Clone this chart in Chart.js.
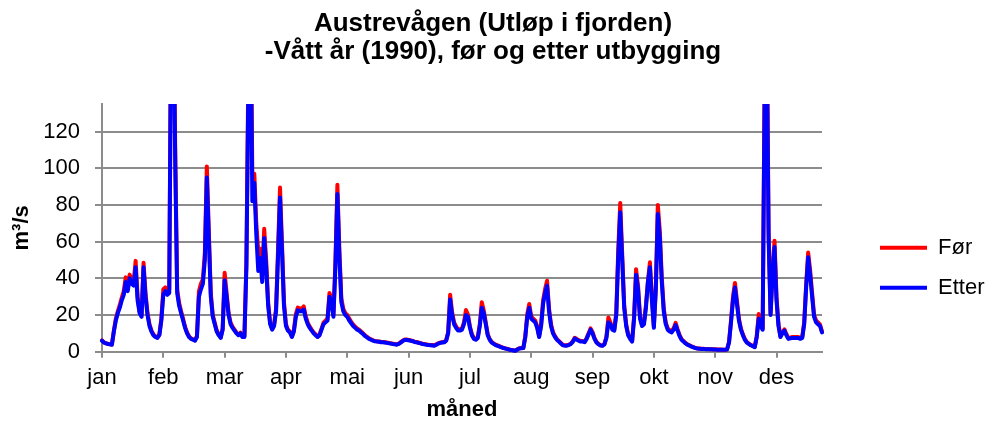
<!DOCTYPE html>
<html>
<head>
<meta charset="utf-8">
<script src="https://cdn.jsdelivr.net/npm/chart.js@4.4.1/dist/chart.umd.min.js"></script>
<style>
  html, body { margin: 0; padding: 0; background: #fff; }
  #chart { display: block; }
</style>
</head>
<body>
<canvas id="chart" width="986" height="426"></canvas>
<script>
// month tick labels, one every 31 days
var months = ['jan', 'feb', 'mar', 'apr', 'mai', 'jun', 'jul', 'aug', 'sep', 'okt', 'nov', 'des'];

// daily discharge m3/s (day 0 = 1 jan)
var dagFor = [
  6.2, 5.1, 4.6, 4.3, 4.1, 3.9, 11.5, 18, 22, 25.5,
  29.5, 33, 40.5, 35, 42, 39, 38, 49.5, 30, 22,
  20, 48.5, 32, 21, 15, 11.5, 9.4, 8.3, 7.8, 9.5,
  18, 34, 35, 33, 34, 200, 210, 112, 34, 26.5,
  22, 18, 13.5, 10.5, 8.4, 7.3, 6.8, 6.3, 8.5, 33,
  37, 39.5, 54, 101, 66, 32, 20, 15.8, 11.6, 9.4,
  7.8, 12.6, 43, 32, 21, 15.8, 13.6, 12, 10.4, 9.4,
  10.4, 8.3, 8.3, 49, 155, 210, 97, 97, 70, 55,
  56, 42, 67, 50, 27, 16, 12.6, 14.8, 23.5, 56,
  89.5, 59, 27, 15, 12, 11, 8.4, 11.6, 20.5, 24,
  23.5, 23.5, 24.7, 19.3, 15.8, 13.7, 12, 10.5, 9.4, 8.4,
  9.4, 12.6, 15.8, 16.9, 18, 32, 29, 20, 49, 91,
  56, 29, 23.3, 21, 20, 18, 16.3, 14.7, 13.6, 12.6,
  12, 11, 10, 8.9, 8.1, 7.3, 6.8, 6.2, 5.9, 5.7,
  5.6, 5.4, 5.3, 5.2, 5, 4.8, 4.6, 4.4, 4.2, 4,
  4.4, 5.2, 6, 6.6, 6.6, 6.4, 6.2, 5.9, 5.5, 5.3,
  5, 4.7, 4.4, 4.2, 4, 3.8, 3.7, 3.6, 3.5, 4,
  4.6, 5, 5.2, 5.3, 6.3, 10.6, 31, 21.5, 16, 13.8,
  12.2, 12.2, 12.7, 16, 22.7, 20.2, 13.8, 9.5, 7.4, 6.9,
  8, 15, 27, 22.5, 16, 9.5, 6.9, 5.3, 4.5, 3.8,
  3.4, 3, 2.5, 2.1, 1.8, 1.5, 1.2, 1, 0.8, 0.6,
  1.3, 1.9, 2, 2.1, 8.5, 20.5, 26, 19.3, 18, 17,
  13.8, 8.5, 15, 28, 34, 38.7, 23.5, 15, 10.6, 8.5,
  6.9, 5.8, 4.8, 3.7, 3.5, 3.5, 3.8, 4.4, 5.7, 7.6,
  6.9, 6.3, 5.8, 5.8, 5.5, 7.4, 10, 12.7, 10.6, 7.4,
  5.3, 4.2, 3.6, 3.4, 4.2, 8, 18.7, 16, 12.7, 12.2,
  21.5, 56, 81, 53, 25.5, 15, 9.5, 7.4, 5.8, 19.3,
  45, 36, 19.3, 15, 16, 25.5, 38.5, 48.7, 30, 13.8,
  36, 80, 66, 40.5, 23.5, 16, 12.7, 11.7, 11.2, 12.8,
  15.7, 12.2, 9, 6.9, 5.8, 4.8, 4, 3.5, 3, 2.5,
  2.1, 1.8, 1.7, 1.6, 1.6, 1.5, 1.5, 1.4, 1.4, 1.3,
  1.3, 1.2, 1.2, 1.2, 1.1, 1.1, 1.3, 5.3, 17, 30,
  37.5, 27.8, 18, 12.7, 9.5, 6.9, 5.3, 4.4, 3.7, 3.2,
  2.6, 8.5, 20.5, 15, 12.7, 150, 195, 66, 21, 45,
  60.5, 30, 15, 8.5, 10.6, 12.2, 9.5, 7.4, 7.7, 8,
  8, 8, 8, 7.4, 8, 16, 37, 54, 44.5, 32,
  20, 17, 16, 14.8, 11
];

var dagEtter = [
  6, 5, 4.5, 4.2, 4, 3.8, 11, 17, 21, 24,
  28, 31, 38, 33, 40, 37, 36, 46, 28, 21,
  19, 46, 30, 20, 14, 11, 9, 8, 7.5, 9,
  17, 31, 33, 31, 32, 190, 200, 105, 32, 25,
  21, 17, 13, 10, 8, 7, 6.5, 6, 8, 30,
  34, 37, 50, 95, 62, 30, 19, 15, 11, 9,
  7.5, 12, 39, 30, 20, 15, 13, 11.5, 10, 9,
  10, 8, 8, 46, 145, 200, 82, 92, 64, 44,
  51, 38, 62, 46, 25, 15, 12, 14, 22, 52,
  84, 55, 25, 14, 11.5, 10.5, 8, 11, 19, 22.5,
  22, 22, 23, 18, 15, 13, 11.5, 10, 9, 8,
  9, 12, 15, 16, 17, 30, 27, 19, 46, 86,
  52, 27, 22, 20, 19, 17, 15.5, 14, 13, 12,
  11.5, 10.5, 9.6, 8.5, 7.8, 7, 6.5, 6, 5.7, 5.5,
  5.4, 5.2, 5.1, 5, 4.8, 4.6, 4.4, 4.2, 4, 3.8,
  4.2, 5, 5.8, 6.4, 6.4, 6.2, 6, 5.7, 5.3, 5.1,
  4.8, 4.5, 4.2, 4, 3.8, 3.6, 3.5, 3.4, 3.3, 3.8,
  4.4, 4.8, 5, 5.1, 6, 10, 28.5, 20, 15, 13,
  11.5, 11.5, 12, 15, 20, 19, 13, 9, 7, 6.5,
  7.5, 14, 24, 21, 15, 9, 6.5, 5, 4.3, 3.6,
  3.2, 2.8, 2.4, 2, 1.7, 1.4, 1.1, 0.9, 0.7, 0.5,
  1.2, 1.8, 1.9, 2, 8, 19, 24, 18, 17, 16,
  13, 8, 14, 26, 32, 36, 22, 14, 10, 8,
  6.5, 5.5, 4.5, 3.5, 3.3, 3.3, 3.6, 4.2, 5.4, 7.2,
  6.5, 6, 5.5, 5.5, 5.2, 7, 9.5, 12, 10, 7,
  5, 4, 3.4, 3.2, 4, 7.5, 16, 15, 12, 11.5,
  20, 52, 76, 50, 24, 14, 9, 7, 5.5, 18,
  42, 34, 18, 14, 15, 24, 38, 46, 28, 13,
  34, 75, 62, 38, 22, 15, 12, 11, 10.5, 12,
  14.5, 11.5, 8.5, 6.5, 5.5, 4.5, 3.8, 3.3, 2.8, 2.4,
  2, 1.7, 1.6, 1.5, 1.5, 1.4, 1.4, 1.3, 1.3, 1.2,
  1.2, 1.1, 1.1, 1.1, 1, 1, 1.2, 5, 16, 28,
  35, 26, 17, 12, 9, 6.5, 5, 4.2, 3.5, 3,
  2.5, 8, 18, 14, 12, 140, 182, 62, 20, 42,
  57, 28, 14, 8, 10, 11.5, 9, 7, 7.3, 7.5,
  7.5, 7.5, 7.5, 7, 7.5, 15, 35, 51.5, 42, 30,
  19, 16, 15, 14, 10.5
];

var gridGray = '#8c8c8c';

Chart.defaults.font.family = "'Liberation Sans', Arial, sans-serif";
Chart.defaults.color = '#000';

function toPoints(arr) {
  return arr.map(function(v, i) { return {x: i, y: v}; });
}

var config = {
  type: 'line',
  data: {
    datasets: [
      {
        label: 'Før',
        data: toPoints(dagFor),
        borderColor: '#ff0000',
        backgroundColor: '#ff0000',
        borderWidth: 4,
        borderJoinStyle: 'round',
        borderCapStyle: 'round',
        pointRadius: 0,
        order: 1,
        clip: {left: 4, top: 0, right: 4, bottom: 4},
      },
      {
        label: 'Etter',
        data: toPoints(dagEtter),
        borderColor: '#0000ff',
        backgroundColor: '#0000ff',
        borderWidth: 4,
        borderJoinStyle: 'round',
        borderCapStyle: 'round',
        pointRadius: 0,
        order: 0,
        clip: {left: 4, top: 0, right: 4, bottom: 4},
      }
    ],
  },
  options: {
    responsive: false,
    animation: false,
    layout: { padding: 0 },
    scales: {
      x: {
        type: 'linear',
        min: 0,
        max: 364,
        ticks: {
          stepSize: 31,
          includeBounds: false,
          autoSkip: false,
          maxRotation: 0,
          padding: 7.5,
          font: { size: 22 },
          callback: function(value) {
            return months[Math.round(value / 31)];
          },
        },
        grid: {
          drawOnChartArea: false,
          color: gridGray,
          lineWidth: 2,
          tickLength: 6,
        },
        border: { color: gridGray, width: 2 },
        title: {
          display: true,
          text: 'måned',
          font: { size: 22, weight: 'bold' },
          padding: { top: 0, bottom: 3 },
        },
        afterFit: function(scale) { scale.height = 74.3; },
      },
      y: {
        min: 0,
        max: 135,
        ticks: {
          stepSize: 20,
          includeBounds: false,
          padding: 15,
          font: { size: 22 },
        },
        grid: {
          color: gridGray,
          lineWidth: 2,
          tickLength: 7,
        },
        border: { color: gridGray, width: 2 },
        title: {
          display: true,
          text: 'm³/s',
          font: { size: 22, weight: 'bold' },
          padding: { top: 9, bottom: 0 },
        },
        afterFit: function(scale) { scale.width = 102; },
      },
      // empty axis, only keeps the gap between plot and legend
      gap: {
        type: 'linear',
        position: 'right',
        grid: { display: false },
        ticks: { display: false },
        border: { display: false },
        afterFit: function(scale) { scale.width = 40; },
      },
    },
    plugins: {
      title: {
        display: true,
        text: ['Austrevågen (Utløp i fjorden)', '-Vått år (1990), før og etter utbygging'],
        font: { size: 26, weight: 'bold', lineHeight: '28px' },
        color: '#000',
        padding: { top: 10, bottom: 38 },
      },
      legend: {
        position: 'right',
        fullSize: false,
        maxWidth: 124,
        title: {
          display: true,
          text: '',
          font: { size: 10, lineHeight: 1 },
          padding: { top: 70, bottom: 0 },
        },
        labels: {
          usePointStyle: true,
          pointStyle: 'line',
          pointStyleWidth: 47,
          padding: 18,
          color: '#000',
          font: { size: 22 },
          sort: function(a, b) { return a.datasetIndex - b.datasetIndex; },
        },
      },
      tooltip: { enabled: false },
    },
  }
};

var chart = new Chart(document.getElementById('chart'), config);
</script>
</body>
</html>
